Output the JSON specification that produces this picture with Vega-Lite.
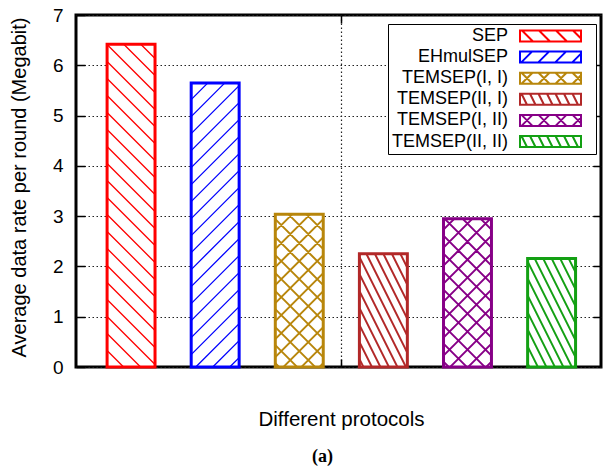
{
  "$schema": "https://vega.github.io/schema/vega-lite/v6.json",
  "width": 525,
  "height": 352,
  "autosize": "none",
  "padding": {"left": 76, "top": 15, "right": 2, "bottom": 103},
  "background": "white",
  "title": {
    "text": "(a)",
    "orient": "bottom",
    "anchor": "middle",
    "dx": -16,
    "offset": 18,
    "font": "Liberation Serif",
    "fontWeight": "bold",
    "fontSize": 18,
    "color": "black"
  },
  "config": {
    "font": "Liberation Sans",
    "view": {"stroke": "black", "strokeWidth": 3},
    "axis": {
      "labelFont": "Liberation Sans",
      "titleFont": "Liberation Sans",
      "titleFontWeight": "normal",
      "labelColor": "black",
      "titleColor": "black",
      "tickColor": "black",
      "domain": false
    },
    "legend": {"labelFont": "Liberation Sans", "labelColor": "black"}
  },
  "data": {
    "values": [
      {"protocol": "SEP", "rate": 6.42},
      {"protocol": "EHmulSEP", "rate": 5.65},
      {"protocol": "TEMSEP(I, I)", "rate": 3.04},
      {"protocol": "TEMSEP(II, I)", "rate": 2.25},
      {"protocol": "TEMSEP(I, II)", "rate": 2.95},
      {"protocol": "TEMSEP(II, II)", "rate": 2.16}
    ]
  },
  "layer": [
    {
      "description": "White bar bodies, with the bottom/left axes and grid",
      "mark": {"type": "bar", "fill": "white", "strokeWidth": 0},
      "encoding": {
        "x": {
          "field": "protocol", "type": "nominal", "sort": null,
          "scale": {"type": "band", "paddingInner": 0.43, "paddingOuter": 0.336, "align": 0.55},
          "axis": {
            "orient": "bottom",
            "title": "Different protocols",
            "titleFontSize": 20.5,
            "titleX": 265, "titleY": 58.5,
            "titleAlign": "center", "titleBaseline": "alphabetic",
            "labels": false,
            "values": ["TEMSEP(II, I)"],
            "bandPosition": -0.377,
            "tickSize": -8, "tickWidth": 1.5,
            "grid": true, "gridColor": "#222222", "gridDash": [1.5, 2.5], "gridWidth": 1.2
          }
        },
        "y": {
          "field": "rate", "type": "quantitative",
          "scale": {"domain": [0, 7], "nice": false, "zero": true},
          "axis": {
            "orient": "left",
            "title": "Average data rate per round (Megabit)",
            "titleFontSize": 20,
            "titleAngle": 270,
            "titleX": -56.5, "titleY": 172,
            "titleAlign": "center", "titleBaseline": "middle",
            "values": [0, 1, 2, 3, 4, 5, 6, 7],
            "format": "d",
            "labelFontSize": 19,
            "labelPadding": 22,
            "tickSize": -9, "tickWidth": 1.5,
            "grid": true, "gridColor": "#222222", "gridDash": [1.5, 2.5], "gridWidth": 1.2
          }
        }
      }
    },
    {
      "description": "Hatching inside each bar, drawn as a stroked glyph hanging from the bar top",
      "mark": {"type": "point", "size": 4, "filled": false, "opacity": 1, "strokeCap": "butt"},
      "encoding": {
        "x": {"field": "protocol", "type": "nominal", "sort": null, "axis": null},
        "y": {"field": "rate", "type": "quantitative", "axis": null},
        "shape": {
          "field": "protocol", "type": "nominal", "legend": null,
          "scale": {
            "domain": ["SEP", "EHmulSEP", "TEMSEP(I, I)", "TEMSEP(II, I)", "TEMSEP(I, II)", "TEMSEP(II, II)"],
            "range": [
              "M9.7,0L24,14.3M-7.3,0L24,31.3M-24,0.3l48,48M-24,17.3l48,48M-24,34.3l48,48M-24,51.3l48,48M-24,68.3l48,48M-24,85.3l48,48M-24,102.3l48,48M-24,119.3l48,48M-24,136.3l48,48M-24,153.3l48,48M-24,170.3l48,48M-24,187.3l48,48M-24,204.3l48,48M-24,221.3l48,48M-24,238.3l48,48M-24,255.3l48,48M-24,272.3l48,48M-24,289.3L9.5,322.8M-24,306.3L-7.5,322.8",
              "M-24,16.7L-7.3,0M-24,33.7L9.7,0M-24,50.7l48,-48M-24,67.7l48,-48M-24,84.7l48,-48M-24,101.7l48,-48M-24,118.7l48,-48M-24,135.7l48,-48M-24,152.7l48,-48M-24,169.7l48,-48M-24,186.7l48,-48M-24,203.7l48,-48M-24,220.7l48,-48M-24,237.7l48,-48M-24,254.7l48,-48M-24,271.7l48,-48M-19.4,284.1L24,240.7M-2.4,284.1L24,257.7M14.6,284.1L24,274.7",
              "M7,0L24,17M-11,0L24,35M-24,5l48,48M-24,23l48,48M-24,41l48,48M-24,59l48,48M-24,77l48,48M-24,95l48,48M-24,113L16,153M-24,131L-2,153M-24,149L-20,153M-24,17L-7,0M-24,35L11,0M-24,53l48,-48M-24,71l48,-48M-24,89l48,-48M-24,107l48,-48M-24,125l48,-48M-24,143l48,-48M-16,153L24,113M2,153L24,131M20,153L24,149",
              "M17,0L24,14M8.5,0L24,31M0,0L24,48M-8.5,0L24,65M-17,0L24,82M-24,3L24,99M-24,20L22.5,113M-24,37L14,113M-24,54L5.5,113M-24,71L-3,113M-24,88L-11.5,113M-24,105L-20,113",
              "M13,0L24,11M-5,0L24,29M-23,0L24,47M-24,17l48,48M-24,35l48,48M-24,53l48,48M-24,71l48,48M-24,89l48,48M-24,107L17,148M-24,125L-1,148M-24,143L-19,148M-24,11L-13,0M-24,29L5,0M-24,47L23,0M-24,65l48,-48M-24,83l48,-48M-24,101l48,-48M-24,119l48,-48M-24,137l48,-48M-17,148L24,107M1,148L24,125M19,148L24,143",
              "M17,0L24,14M8.5,0L24,31M0,0L24,48M-8.5,0L24,65M-17,0L24,82M-24,3L24,99M-24,20L20.25,108.5M-24,37L11.75,108.5M-24,54L3.25,108.5M-24,71L-5.25,108.5M-24,88L-13.75,108.5M-24,105L-22.25,108.5"
            ]
          }
        },
        "stroke": {
          "field": "protocol", "type": "nominal", "legend": null,
          "scale": {
            "domain": ["SEP", "EHmulSEP", "TEMSEP(I, I)", "TEMSEP(II, I)", "TEMSEP(I, II)", "TEMSEP(II, II)"],
            "range": ["#ff0000", "#0000ff", "#b8860b", "#b22828", "#870087", "#13a013"]
          }
        },
        "strokeWidth": {
          "condition": {"test": "datum.protocol === 'SEP' || datum.protocol === 'EHmulSEP'", "value": 1.3},
          "value": 2
        }
      }
    },
    {
      "description": "Coloured bar outlines, with the mirrored top/right ticks",
      "mark": {"type": "bar", "filled": false, "strokeWidth": 3, "strokeJoin": "miter"},
      "encoding": {
        "x": {
          "field": "protocol", "type": "nominal", "sort": null,
          "axis": {
            "orient": "top", "title": null, "labels": false, "grid": false,
            "values": ["TEMSEP(II, I)"], "bandPosition": -0.377,
            "tickSize": -8, "tickWidth": 1.5
          }
        },
        "y": {
          "field": "rate", "type": "quantitative",
          "axis": {
            "orient": "right", "title": null, "labels": false, "grid": false,
            "values": [1, 2, 3, 4, 5, 6],
            "tickSize": -8, "tickWidth": 1.5
          }
        },
        "stroke": {"field": "protocol", "type": "nominal", "legend": null}
      }
    },
    {
      "description": "Key: hatched swatches to the right of right-aligned names",
      "mark": {"type": "point", "size": 0, "filled": false, "opacity": 1},
      "encoding": {
        "x": {"field": "protocol", "type": "nominal", "sort": null, "axis": null},
        "y": {"field": "rate", "type": "quantitative", "axis": null},
        "stroke": {"field": "protocol", "type": "nominal", "legend": null},
        "shape": {
          "field": "protocol", "type": "nominal",
          "scale": {
            "domain": ["SEP", "EHmulSEP", "TEMSEP(I, I)", "TEMSEP(II, I)", "TEMSEP(I, II)", "TEMSEP(II, II)"],
            "range": [
              "M120,-5.5H181V5.5H120ZM122,-5.5l11,11M139,-5.5l11,11M156,-5.5l11,11M173,-5.5L181,2.5M189,0",
              "M120,-5.5H181V5.5H120ZM132,-5.5l-11,11M149,-5.5l-11,11M166,-5.5l-11,11M181,-3.5L172,5.5M189,0",
              "M120,-5.5H181V5.5H120ZM121.5,-5.5l11,11M132.5,-5.5l-11,11M138.5,-5.5l11,11M149.5,-5.5l-11,11M155.5,-5.5l11,11M166.5,-5.5l-11,11M172.5,-5.5L181,3M181,-3L172.5,5.5M189,0",
              "M120,-5.5H181V5.5H120ZM121.5,-5.5l5.5,11M130,-5.5l5.5,11M138.5,-5.5l5.5,11M147,-5.5l5.5,11M155.5,-5.5l5.5,11M164,-5.5l5.5,11M172.5,-5.5l5.5,11M189,0",
              "M120,-5.5H181V5.5H120ZM121.5,-5.5l11,11M132.5,-5.5l-11,11M138.5,-5.5l11,11M149.5,-5.5l-11,11M155.5,-5.5l11,11M166.5,-5.5l-11,11M172.5,-5.5L181,3M181,-3L172.5,5.5M189,0",
              "M120,-5.5H181V5.5H120ZM121.5,-5.5l5.5,11M130,-5.5l5.5,11M138.5,-5.5l5.5,11M147,-5.5l5.5,11M155.5,-5.5l5.5,11M164,-5.5l5.5,11M172.5,-5.5l5.5,11M189,0"
            ]
          },
          "legend": {
            "orient": "none", "legendX": 312, "legendY": 9,
            "title": null,
            "labelFontSize": 18, "labelAlign": "right", "labelOffset": 99, "labelLimit": 300,
            "symbolSize": 4, "symbolStrokeWidth": 2, "symbolOffset": 0,
            "symbolStrokeColor": {"expr": "scale('stroke', datum.value)"},
            "symbolFillColor": "transparent",
            "fillColor": "white", "strokeColor": "black", "padding": 3, "rowPadding": 1.1
          }
        }
      }
    }
  ],
  "resolve": {
    "scale": {"shape": "independent"},
    "axis": {"x": "independent", "y": "independent"}
  }
}
